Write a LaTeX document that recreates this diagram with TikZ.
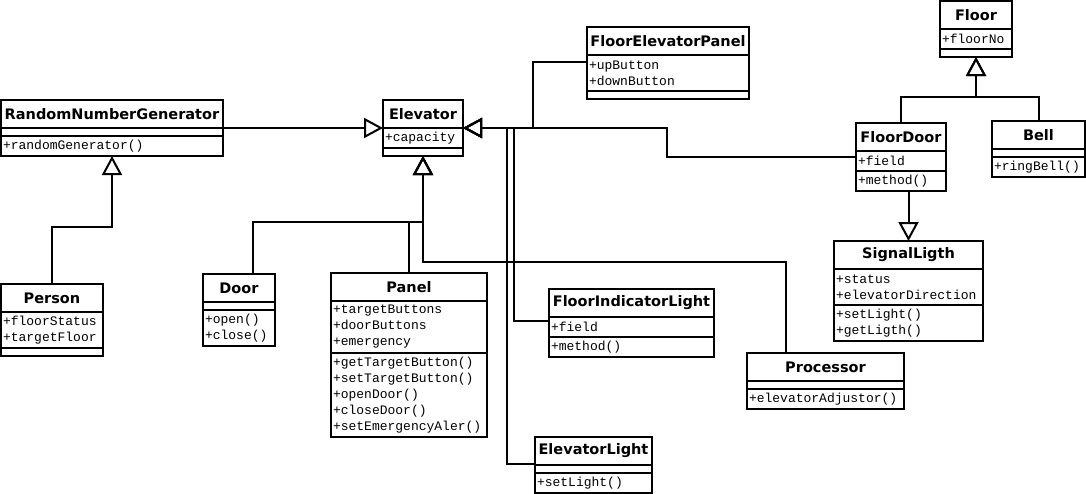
\documentclass[tikz,border=0pt]{standalone}
\usepackage{fontspec}
\newfontfamily\classfont{DejaVu Sans}
\newfontfamily\memberfont{Liberation Mono}
\usetikzlibrary{positioning,arrows.meta}

\begin{document}
\begin{tikzpicture}[x=1pt, y=-1pt,
    cname/.style={draw, line width=2pt, outer sep=0pt, inner sep=0pt, minimum height=28pt, anchor=north west, font=\classfont\bfseries\fontsize{14.5}{17}\selectfont},
    cpart/.style={draw, line width=2pt, outer sep=0pt, inner xsep=2pt, inner ysep=0pt, align=left, font=\memberfont\fontsize{13}{16}\selectfont},
    inh/.style={line width=2pt, -{Triangle[open, length=19pt, width=20pt]}}]
	    \path[fill=white, use as bounding box] (0,0) rectangle (1086,493);
	    % classes
	    \node[cname, minimum width=222pt] (rngt) at (1,100) {RandomNumberGenerator};
	    \node[cpart, text width=218pt, minimum height=8pt, below=0pt of rngt] (rnga) {};
	    \node[cpart, text width=218pt, minimum height=20pt, below=0pt of rnga] (rngm) {+randomGenerator()};

	    \node[cname, minimum width=80pt] (elevt) at (383,100) {Elevator};
	    \node[cpart, text width=76pt, minimum height=20pt, below=0pt of elevt] (eleva) {+capacity};
	    \node[cpart, text width=76pt, minimum height=8pt, below=0pt of eleva] (elevm) {};

	    \node[cname, minimum width=162pt] (fept) at (587,27) {FloorElevatorPanel};
	    \node[cpart, text width=158pt, minimum height=36pt, below=0pt of fept] (fepa) {+upButton\\+downButton};
	    \node[cpart, text width=158pt, minimum height=8pt, below=0pt of fepa] (fepm) {};

	    \node[cname, minimum width=72pt] (floort) at (940,1) {Floor};
	    \node[cpart, text width=68pt, minimum height=20pt, below=0pt of floort] (floora) {+floorNo};
	    \node[cpart, text width=68pt, minimum height=8pt, below=0pt of floora] (floorm) {};

	    \node[cname, minimum width=90pt] (fdoort) at (856,123) {FloorDoor};
	    \node[cpart, text width=86pt, minimum height=20pt, below=0pt of fdoort] (fdoora) {+field};
	    \node[cpart, text width=86pt, minimum height=20pt, below=0pt of fdoora] (fdoorm) {+method()};

	    \node[cname, minimum width=93pt] (bellt) at (992,121) {Bell};
	    \node[cpart, text width=89pt, minimum height=8pt, below=0pt of bellt] (bella) {};
	    \node[cpart, text width=89pt, minimum height=20pt, below=0pt of bella] (bellm) {+ringBell()};

	    \node[cname, minimum width=149pt] (sigt) at (834,241) {SignalLigth};
	    \node[cpart, text width=145pt, minimum height=36pt, below=0pt of sigt] (siga) {+status\\+elevatorDirection};
	    \node[cpart, text width=145pt, minimum height=36pt, below=0pt of siga] (sigm) {+setLight()\\+getLigth()};

	    \node[cname, minimum width=102pt] (persont) at (1,284) {Person};
	    \node[cpart, text width=98pt, minimum height=36pt, below=0pt of persont] (persona) {+floorStatus\\+targetFloor};
	    \node[cpart, text width=98pt, minimum height=8pt, below=0pt of persona] (personm) {};

	    \node[cname, minimum width=72pt] (doort) at (203,274) {Door};
	    \node[cpart, text width=68pt, minimum height=8pt, below=0pt of doort] (doora) {};
	    \node[cpart, text width=68pt, minimum height=36pt, below=0pt of doora] (doorm) {+open()\\+close()};

	    \node[cname, minimum width=156pt] (panelt) at (331,273) {Panel};
	    \node[cpart, text width=152pt, minimum height=52pt, below=0pt of panelt] (panela) {+targetButtons\\+doorButtons\\+emergency};
	    \node[cpart, text width=152pt, minimum height=84pt, below=0pt of panela] (panelm) {+getTargetButton()\\+setTargetButton()\\+openDoor()\\+closeDoor()\\+setEmergencyAler()};

	    \node[cname, minimum width=165pt] (filt) at (549,289) {FloorIndicatorLight};
	    \node[cpart, text width=161pt, minimum height=20pt, below=0pt of filt] (fila) {+field};
	    \node[cpart, text width=161pt, minimum height=20pt, below=0pt of fila] (film) {+method()};

	    \node[cname, minimum width=157pt] (proct) at (747,353) {Processor};
	    \node[cpart, text width=153pt, minimum height=8pt, below=0pt of proct] (proca) {};
	    \node[cpart, text width=153pt, minimum height=20pt, below=0pt of proca] (procm) {+elevatorAdjustor()};

	    \node[cname, minimum width=117pt] (elightt) at (535,437) {ElevatorLight};
	    \node[cpart, text width=113pt, minimum height=8pt, below=0pt of elightt] (elighta) {};
	    \node[cpart, text width=113pt, minimum height=20pt, below=0pt of elighta] (elightm) {+setLight()};

	    % generalizations
	    \draw[inh] (rngt.south east) -- (elevt.south west);
	    \draw[inh] (persont.north) -- ++(0,-57) -| (rngm.south);
	    \draw[inh] ([xshift=14pt]doort.north) -- ++(0,-52) -| (elevm.south);
	    \draw[inh] (panelt.north) -- ++(0,-51) -| (elevm.south);
	    \draw[inh] ([xshift=-39.5pt]proct.north) -- ++(0,-91) -| (elevm.south);
	    \draw[inh] ([yshift=11pt]fepa.west) -| (533,128) -- (eleva.north east);
	    \draw[inh] ([yshift=4pt]fdoora.west) -| (667,128) -- (eleva.north east);
	    \draw[inh] ([yshift=6pt]fila.west) -| (514,128) -- (eleva.north east);
	    \draw[inh] ([yshift=1pt]elightt.south west) -| (507,128) -- (eleva.north east);
	    \draw[inh] (fdoort.north) -- ++(0,-26) -| (floorm.south);
	    \draw[inh] (bellt.north) -- ++(0,-24) -| (floorm.south);
	    \draw[inh] (sigt.north |- fdoorm.south) -- (sigt.north);
	\end{tikzpicture}
\end{document}
